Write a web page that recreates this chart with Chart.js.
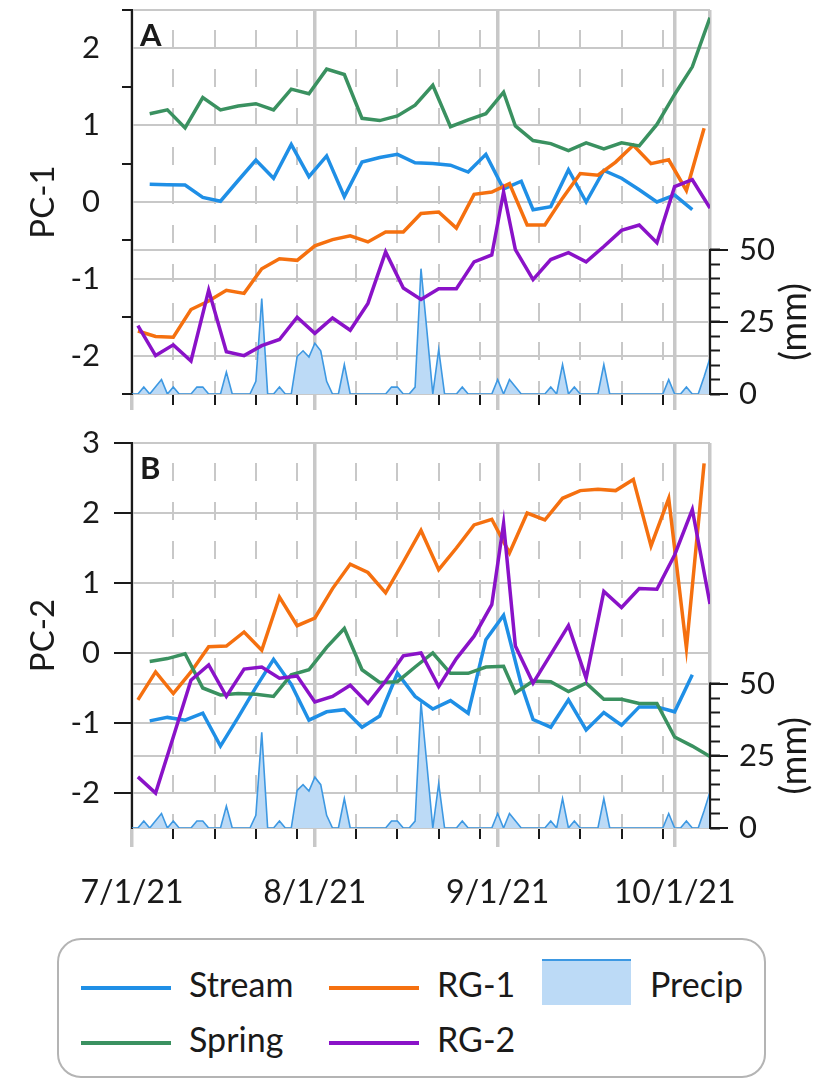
<!DOCTYPE html>
<html lang="en">
<head>
<meta charset="UTF-8">
<title>PC-1 / PC-2 with precipitation</title>
<script src="https://cdn.jsdelivr.net/npm/chart.js"></script>
<style>
    body { margin: 0; background: #ffffff; font-family: Lato, sans-serif; color: #1a1a1a; }
    .page { position: relative; width: 816px; height: 1080px; overflow: hidden; }
    #panelA { position: absolute; left: 0; top: 0; }
    #panelB { position: absolute; left: 0; top: 420px; }
    .legend {
        position: absolute; left: 57px; top: 938px; width: 709px; height: 140px;
        border: 2px solid #b4b4b4; border-radius: 24px; box-sizing: border-box;
    }
    .key { position: absolute; font-size: 34px; line-height: 40px; white-space: nowrap; }
    .key .ln { display: inline-block; width: 90px; height: 4px; vertical-align: middle; margin-right: 18px; }
    .swatch { position: absolute; width: 89px; height: 46px; background: #bcdaf6; border-top: 2px solid #3d98e2; box-sizing: border-box; }
</style>
</head>
<body>
<div class="page">
    <canvas id="panelA" width="816" height="420"></canvas>
    <canvas id="panelB" width="816" height="510"></canvas>
    <div class="legend" id="legend"></div>
</div>

<script>
    // sampling dates per site
    const streamDates = ['7/4/21','7/7/21','7/10/21','7/13/21','7/16/21','7/19/21','7/22/21','7/25/21','7/28/21','7/31/21',
        '8/3/21','8/6/21','8/9/21','8/12/21','8/15/21','8/18/21','8/21/21','8/24/21','8/27/21','8/30/21',
        '9/2/21','9/5/21','9/7/21','9/10/21','9/13/21','9/16/21','9/19/21','9/22/21','9/25/21','9/28/21',
        '10/1/21','10/4/21'];
    const springDates = ['7/4/21','7/7/21','7/10/21','7/13/21','7/16/21','7/19/21','7/22/21','7/25/21','7/28/21','7/31/21',
        '8/3/21','8/6/21','8/9/21','8/12/21','8/15/21','8/18/21','8/21/21','8/24/21','8/27/21','8/30/21',
        '9/2/21','9/4/21','9/7/21','9/10/21','9/13/21','9/16/21','9/19/21','9/22/21','9/25/21','9/28/21',
        '10/1/21','10/4/21','10/7/21'];
    const rg1Dates = ['7/2/21','7/5/21','7/8/21','7/11/21','7/14/21','7/17/21','7/20/21','7/23/21','7/26/21','7/29/21',
        '8/1/21','8/4/21','8/7/21','8/10/21','8/13/21','8/16/21','8/19/21','8/22/21','8/25/21','8/28/21',
        '8/31/21','9/3/21','9/6/21','9/9/21','9/12/21','9/15/21','9/18/21','9/21/21','9/24/21','9/27/21',
        '9/30/21','10/3/21','10/6/21'];
    const rg2Dates = ['7/2/21','7/5/21','7/8/21','7/11/21','7/14/21','7/17/21','7/20/21','7/23/21','7/26/21','7/29/21',
        '8/1/21','8/4/21','8/7/21','8/10/21','8/13/21','8/16/21','8/19/21','8/22/21','8/25/21','8/28/21',
        '8/31/21','9/2/21','9/4/21','9/7/21','9/10/21','9/13/21','9/16/21','9/19/21','9/22/21','9/25/21',
        '9/28/21','10/1/21','10/4/21','10/7/21'];

    // PC-1 scores
    const streamPC1 = [0.23,0.225,0.22,0.06,0.01,0.28,0.545,0.31,0.75,0.33,
        0.60,0.07,0.52,0.58,0.62,0.51,0.50,0.48,0.39,0.62,
        0.17,0.27,-0.10,-0.06,0.42,0.0,0.41,0.31,0.16,0.0,
        0.09,-0.10];
    const springPC1 = [1.15,1.20,0.965,1.36,1.20,1.25,1.28,1.20,1.47,1.41,
        1.73,1.66,1.09,1.06,1.12,1.26,1.52,0.98,1.07,1.15,
        1.43,0.99,0.80,0.76,0.67,0.77,0.69,0.77,0.73,1.01,
        1.40,1.76,2.40];
    const rg1PC1 = [-1.68,-1.75,-1.76,-1.40,-1.29,-1.15,-1.19,-0.87,-0.74,-0.76,
        -0.57,-0.49,-0.44,-0.52,-0.39,-0.39,-0.15,-0.13,-0.34,0.10,
        0.13,0.24,-0.30,-0.30,0.05,0.37,0.35,0.52,0.74,0.50,
        0.55,0.15,0.96];
    const rg2PC1 = [-1.61,-2.00,-1.86,-2.07,-1.15,-1.95,-2.00,-1.87,-1.79,-1.50,
        -1.71,-1.51,-1.67,-1.32,-0.65,-1.12,-1.27,-1.13,-1.13,-0.78,
        -0.69,0.13,-0.62,-1.01,-0.75,-0.66,-0.78,-0.58,-0.37,-0.30,
        -0.53,0.20,0.29,-0.08];

    // PC-2 scores
    const streamPC2 = [-0.97,-0.92,-0.96,-0.86,-1.33,-0.92,-0.49,-0.09,-0.45,-0.96,
        -0.84,-0.81,-1.06,-0.90,-0.29,-0.62,-0.80,-0.68,-0.86,0.19,
        0.54,-0.45,-0.95,-1.06,-0.67,-1.10,-0.85,-1.03,-0.77,-0.77,
        -0.84,-0.31];
    const springPC2 = [-0.12,-0.08,-0.01,-0.50,-0.60,-0.58,-0.59,-0.62,-0.31,-0.24,
        0.08,0.35,-0.24,-0.42,-0.41,-0.20,0.00,-0.29,-0.29,-0.20,
        -0.19,-0.57,-0.40,-0.41,-0.55,-0.43,-0.66,-0.66,-0.72,-0.72,
        -1.20,-1.33,-1.48];
    const rg1PC2 = [-0.67,-0.27,-0.58,-0.27,0.09,0.10,0.30,0.04,0.80,0.39,
        0.50,0.92,1.27,1.15,0.86,1.30,1.75,1.19,1.50,1.83,
        1.91,1.43,2.00,1.90,2.21,2.32,2.34,2.32,2.48,1.53,
        2.21,0.07,2.71];
    const rg2PC2 = [-1.77,-2.00,-1.20,-0.39,-0.17,-0.62,-0.23,-0.20,-0.36,-0.33,
        -0.70,-0.62,-0.46,-0.72,-0.40,-0.04,0.00,-0.48,-0.08,0.24,
        0.69,1.85,0.10,-0.43,-0.02,0.39,-0.36,0.88,0.65,0.92,
        0.91,1.40,2.05,0.70];

    // daily precipitation (mm), starting 7/1/21
    const precipStart = '7/1/21';
    const precipMm = [0,0,2.4,0,2.5,5.0,0,2.4,0,0,
        0,2.4,2.4,0,0,0,7.6,0,0,0,
        0,4.4,33.1,0,0,2.4,0,0,13.0,15.0,
        12.8,17.6,15.0,4.4,0,0,10.2,0,0,0,
        0,0,0,0,2.4,2.4,0,0,2.4,43.5,
        22,0,15.4,0,0,0,2.4,0,0,0,
        0,0,5.0,0,5.0,2.5,0,0,0,0,
        0,2.4,0,10.2,0,2.4,0,0,0,0,
        10.2,0,0,0,0,0,0,0,0,0,
        0,5.0,0,0,2.4,0,0,6,12.5];

    // axis ticks
    const axisStart = '7/1/21';
    const axisEnd = '10/7/21';
    const monthTicks = ['7/1/21','8/1/21','9/1/21','10/1/21'];
    const weekTicks = ['7/8/21','7/15/21','7/22/21','7/29/21','8/8/21','8/15/21','8/22/21','8/29/21',
        '9/8/21','9/15/21','9/22/21','9/29/21'];
    const pc1Ticks = [-2.5,-2,-1.5,-1,-0.5,0,0.5,1,1.5,2,2.5];
    const pc2Ticks = [-2.5,-2,-1,0,1,2,3];
    const mmTicks = [0,25,50];
    const mmMinorTicks = [0,5,10,15,20,25,30,35,40,45,50];
    const mmMax = 133.3;

    const COLORS = { stream: '#1f8fe6', rg1: '#f5700f', spring: '#3a9160', rg2: '#8a12c8',
        precipFill: '#bcdaf6', precipLine: '#3d98e2' };
    const gridGray = '#c8c8c8';
    const ink = '#1a1a1a';
    const FONT = 'Lato';
    const clear = 'rgba(0,0,0,0)';

    // days since 7/1/21
    function dayOf(s) {
        const [m, d, y] = s.split('/').map(Number);
        return Math.round((Date.UTC(2000 + y, m - 1, d) - Date.UTC(2021, 6, 1)) / 86400000);
    }
    const xMin = dayOf(axisStart), xMax = dayOf(axisEnd);
    const monthDays = monthTicks.map(dayOf);
    const weekDays = weekTicks.map(dayOf);

    function points(dates, values) {
        return dates.map((d, i) => ({ x: dayOf(d), y: values[i] }));
    }
    const precipPoints = precipMm.map((v, i) => ({ x: dayOf(precipStart) + i, y: v }));

    function series(label, dates, values, color, order) {
        return { label, data: points(dates, values), borderColor: color, borderWidth: 3.5,
            pointRadius: 0, tension: 0, fill: false, spanGaps: true, order,
            xAxisID: 'x', yAxisID: 'y' };
    }

    // keep the plot area fixed: no extra room for overhanging labels
    function noOverhang(s) {
        s.paddingTop = 0; s.paddingBottom = 0; s.paddingLeft = 0; s.paddingRight = 0;
    }

    // panel letter, right-axis spine over 0-50 mm and the (mm) title
    const panelDecor = {
        id: 'panelDecor',
        afterDraw(chart, args, opts) {
            const { ctx, chartArea } = chart;
            const yP = chart.scales.yP;
            const y0 = yP.getPixelForValue(0), y50 = yP.getPixelForValue(50);
            ctx.save();
            ctx.strokeStyle = ink;
            ctx.lineWidth = 2;
            ctx.beginPath();
            ctx.moveTo(chartArea.right, y0 + 1);
            ctx.lineTo(chartArea.right, y50 - 1);
            ctx.stroke();

            ctx.fillStyle = ink;
            ctx.font = 'bold 31px ' + FONT;
            ctx.textBaseline = 'alphabetic';
            ctx.fillText(opts.letter, chartArea.left + 8, chartArea.top + 36);

            ctx.translate(794, (y0 + y50) / 2);
            ctx.rotate(-Math.PI / 2);
            ctx.font = '36px ' + FONT;
            ctx.textAlign = 'center';
            ctx.textBaseline = 'middle';
            ctx.fillText('(mm)', 0, 0);
            ctx.restore();
        }
    };

    function buildPanel(id, p) {
        const isInt = v => Math.abs(v - Math.round(v)) < 1e-9;
        return new Chart(document.getElementById(id), {
            type: 'line',
            data: {
                datasets: [
                    series('Stream', streamDates, p.stream, COLORS.stream, 4),
                    series('RG-1', rg1Dates, p.rg1, COLORS.rg1, 3),
                    series('Spring', springDates, p.spring, COLORS.spring, 2),
                    series('RG-2', rg2Dates, p.rg2, COLORS.rg2, 1),
                    { label: 'Precip', data: precipPoints, xAxisID: 'x', yAxisID: 'yP',
                      fill: 'origin', backgroundColor: COLORS.precipFill, borderColor: COLORS.precipLine,
                      borderWidth: 1.6, pointRadius: 0, tension: 0, order: 5 }
                ]
            },
            options: {
                responsive: false,
                animation: false,
                layout: { padding: { top: p.topPad, left: 0, right: 0, bottom: 0 } },
                plugins: { legend: { display: false }, tooltip: { enabled: false },
                           panelDecor: { letter: p.letter } },
                scales: {
                    // weekly dashed guides with short black ticks
                    xw: {
                        type: 'linear', position: 'bottom', min: xMin, max: xMax, weight: 0,
                        afterBuildTicks: s => { s.ticks = weekDays.map(v => ({ value: v })); },
                        afterFit: s => { s.height = 0; noOverhang(s); },
                        ticks: { display: false },
                        grid: { color: gridGray, lineWidth: 2, tickLength: 11, tickColor: ink, tickWidth: 2,
                                tickBorderDash: [] },
                        border: { display: false, dash: [18, 21], dashOffset: 19 }
                    },
                    // month lines and date labels
                    x: {
                        type: 'linear', position: 'bottom', min: xMin, max: xMax, weight: 1,
                        afterBuildTicks: s => { s.ticks = monthDays.concat([xMax]).map(v => ({ value: v })); },
                        afterFit: s => { s.height = p.xHeight; noOverhang(s); },
                        ticks: { display: p.showDates, autoSkip: false, maxRotation: 0, padding: 26,
                                 color: ink, font: { family: FONT, size: 32 },
                                 callback: (v, i) => monthTicks[i] || '' },
                        grid: { color: gridGray, lineWidth: 3.5, tickLength: p.majorTick,
                                tickColor: c => c.tick && c.tick.value === xMax ? clear : gridGray,
                                tickWidth: 3.5 },
                        border: { display: false }
                    },
                    y: {
                        position: 'left', min: p.yMin, max: p.yMax,
                        afterBuildTicks: s => { s.ticks = p.yTicks.map(v => ({ value: v })); },
                        afterFit: s => { s.width = 132; noOverhang(s); },
                        ticks: { autoSkip: false, padding: p.labelPad, color: ink, font: { family: FONT, size: 31 },
                                 callback: v => (isInt(v) && v > p.yMin ? String(v) : '') },
                        grid: { lineWidth: 2,
                                color: c => (isInt(c.tick.value) || c.tick.value === p.yMax || c.tick.value === p.yMin) ? gridGray : clear,
                                tickLength: p.yTick, tickWidth: 2,
                                tickColor: c => p.tickOnHalf(c.tick.value) ? ink : clear },
                        border: { color: ink, width: 2 },
                        title: { display: true, text: p.title, color: ink, font: { family: FONT, size: 33 },
                                 padding: { top: 24, bottom: 0 } }
                    },
                    // minor 5 mm ticks sit right on the plot edge, under the labelled axis
                    yPm: {
                        position: 'right', min: 0, max: mmMax, weight: 0,
                        afterBuildTicks: s => { s.ticks = mmMinorTicks.map(v => ({ value: v })); },
                        afterFit: s => { s.width = 0; noOverhang(s); },
                        ticks: { display: false },
                        grid: { drawOnChartArea: false, tickLength: 10, tickWidth: 2, tickColor: ink },
                        border: { display: false }
                    },
                    yP: {
                        position: 'right', min: 0, max: mmMax, weight: 1,
                        afterBuildTicks: s => { s.ticks = mmTicks.map(v => ({ value: v })); },
                        afterFit: s => { s.width = 106; noOverhang(s); },
                        ticks: { autoSkip: false, padding: 11, color: ink, font: { family: FONT, size: 31 } },
                        grid: { lineWidth: 2, drawOnChartArea: true, color: gridGray,
                                tickLength: 18, tickWidth: 2, tickColor: ink },
                        border: { display: false }
                    }
                }
            },
            plugins: [panelDecor]
        });
    }

    buildPanel('panelA', {
        letter: 'A', title: 'PC-1', topPad: 10, xHeight: 26, majorTick: 16, showDates: false,
        yMin: -2.5, yMax: 2.5, yTicks: pc1Ticks, yTick: 10, labelPad: 22,
        tickOnHalf: v => !Number.isInteger(v),
        stream: streamPC1, spring: springPC1, rg1: rg1PC1, rg2: rg2PC1
    });
    buildPanel('panelB', {
        letter: 'B', title: 'PC-2', topPad: 23, xHeight: 102, majorTick: 19, showDates: true,
        yMin: -2.5, yMax: 3, yTicks: pc2Ticks, yTick: 18, labelPad: 14,
        tickOnHalf: v => Number.isInteger(v),
        stream: streamPC2, spring: springPC2, rg1: rg1PC2, rg2: rg2PC2
    });

    // legend keys
    const legendKeys = [
        { label: 'Stream', color: COLORS.stream, left: 22, top: 24 },
        { label: 'RG-1', color: COLORS.rg1, left: 270, top: 24 },
        { label: 'Spring', color: COLORS.spring, left: 22, top: 79 },
        { label: 'RG-2', color: COLORS.rg2, left: 270, top: 79 }
    ];
    const legend = document.getElementById('legend');
    legendKeys.forEach(k => {
        const el = document.createElement('div');
        el.className = 'key';
        el.style.left = k.left + 'px';
        el.style.top = k.top + 'px';
        el.innerHTML = '<span class="ln" style="background:' + k.color + '"></span>' + k.label;
        legend.appendChild(el);
    });
    const sw = document.createElement('div');
    sw.className = 'swatch';
    sw.style.left = '483px';
    sw.style.top = '19px';
    legend.appendChild(sw);
    const pl = document.createElement('div');
    pl.className = 'key';
    pl.style.left = '591px';
    pl.style.top = '24px';
    pl.textContent = 'Precip';
    legend.appendChild(pl);
</script>
</body>
</html>
